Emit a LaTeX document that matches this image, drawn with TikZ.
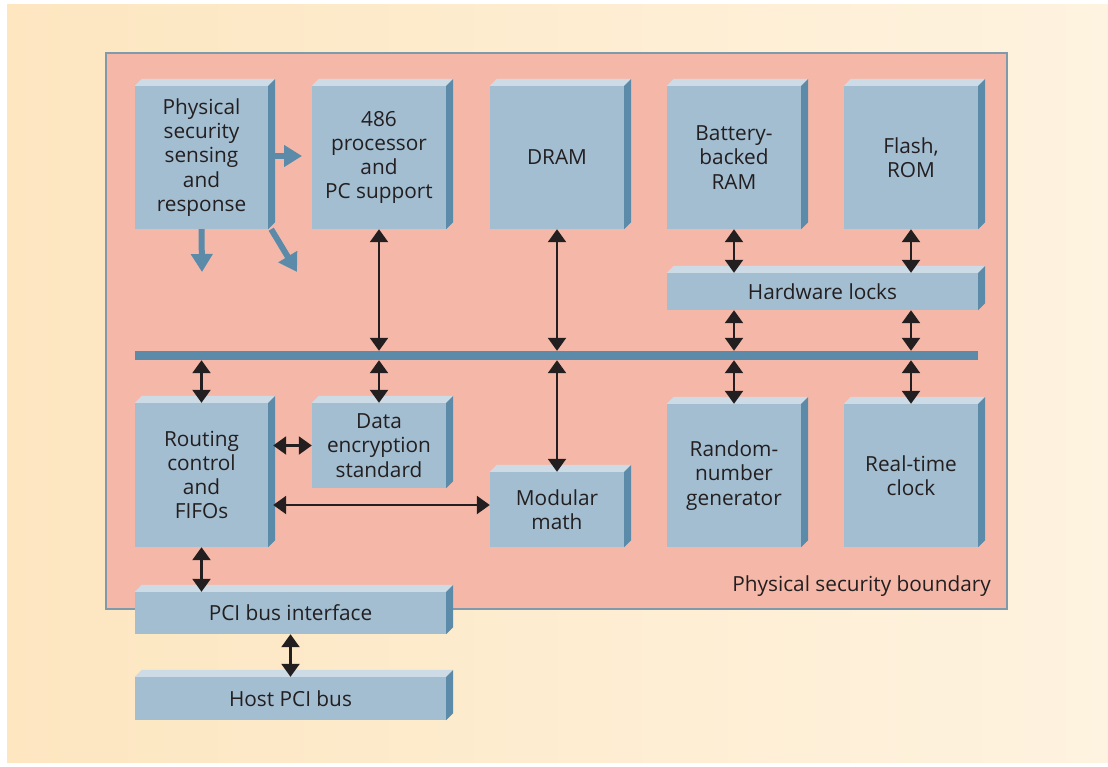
\documentclass[tikz,border=0pt]{standalone}
\usepackage{fontspec}
\setmainfont{Open Sans}
\usetikzlibrary{arrows.meta}
\definecolor{frontblue}{HTML}{A3BDD1}
\definecolor{topblue}{HTML}{CCDBE6}
\definecolor{sideblue}{HTML}{5B8BA8}
\definecolor{boundred}{HTML}{F5B8A8}
\definecolor{boundline}{HTML}{7F9AAB}
\definecolor{paperlight}{HTML}{FEF3E0}
\definecolor{paperdark}{HTML}{FDE6C0}
\definecolor{inkdark}{HTML}{231F20}

\begin{document}
\begin{tikzpicture}
  [x=1pt,y=-1pt,
   every node/.style={font=\fontsize{20.8}{24.3}\selectfont,text=inkdark,align=center,inner sep=0pt},
   unit/.style args={#1x#2}{rectangle,fill=frontblue,minimum width=#1,minimum height=#2},
   dbl/.style={inkdark,line width=2.4pt,{Triangle[width=18pt,length=13pt]}-{Triangle[width=18pt,length=13pt]}},
   sense/.style={sideblue,line width=6pt,-{Triangle[width=21pt,length=18pt]}}]
  \useasboundingbox (0,0) rectangle (1108,766);
  \shade[left color=paperdark,right color=paperlight] (7,4) rectangle (1108,762);
  \filldraw[fill=boundred,draw=boundline,line width=1.2pt] (106,53) rectangle (1007,609);

  \node[unit=133x143] (phys) at (201.5,157.5) {Physical\\security\\sensing\\and\\response};
  \node[unit=134x143] (cpu) at (379,157.5) {486\\processor\\and\\PC support};
  \node[unit=134x143] (dram) at (557,157.5) {DRAM};
  \node[unit=134x143] (bbram) at (734,157.5) {Battery-\\backed\\RAM};
  \node[unit=134x143] (flash) at (911,157.5) {Flash,\\ROM};
  \node[unit=311x37] (locks) at (822.5,291.5) {Hardware locks};
  \node[fill=sideblue,minimum width=843,minimum height=9] (bus) at (556.5,355.5) {};
  \node[unit=133x144] (route) at (201.5,475) {Routing\\control\\and\\FIFOs};
  \node[unit=134x85] (des) at (379,445.5) {Data\\encryption\\standard};
  \node[unit=134x75] (modmath) at (557,509.5) {Modular\\math};
  \node[unit=134x143] (rng) at (734,475.5) {Random-\\number\\generator};
  \node[unit=134x143] (rtc) at (911,475.5) {Real-time\\clock};
  \node[unit=311x42] (pci) at (290.5,613) {PCI bus interface};
  \node[unit=311x43] (host) at (290.5,698.5) {Host PCI bus};
  \node[anchor=base east] (bndlabel) at (991,591) {Physical security boundary};

  \foreach \b in {phys,cpu,dram,bbram,flash,locks,route,des,modmath,rng,rtc,pci,host}{
    \fill[topblue] (\b.north west) -- ++(7,-7) -- ([shift={(7,-7)}]\b.north east) -- (\b.north east) -- cycle;
    \fill[sideblue] (\b.north east) -- ++(7,-7) -- ([shift={(7,-7)}]\b.south east) -- (\b.south east) -- cycle;
  }

  \coordinate (senseR) at (302,156);
  \coordinate (senseD) at (202,272);
  \coordinate (senseX) at (297,272);
  \draw[sense] (phys.east |- senseR) -- (senseR);
  \draw[sense] (phys.south) -- (senseD);
  \draw[sense] ([xshift=3]phys.south east) -- (senseX);

  \foreach \n in {cpu,dram}
    \draw[dbl] (\n.south) -- (\n.south |- bus.north);
  \foreach \n in {bbram,flash}{
    \draw[dbl] (\n.south) -- (\n.south |- locks.north);
    \draw[dbl] (locks.south -| \n.south) -- (\n.south |- bus.north);
  }
  \foreach \n in {route,des,modmath,rng,rtc}
    \draw[dbl] (bus.south -| \n.north) -- (\n.north);

  \coordinate (routeS) at ([xshift=5]route.east);
  \draw[dbl] (routeS |- des.west) -- (des.west);
  \draw[dbl] (routeS |- 0,505) -- (modmath.west |- 0,505);
  \draw[dbl] (route.south) -- (route.south |- pci.north);
  \draw[dbl] (pci.south) -- (host.north);
\end{tikzpicture}
\end{document}
